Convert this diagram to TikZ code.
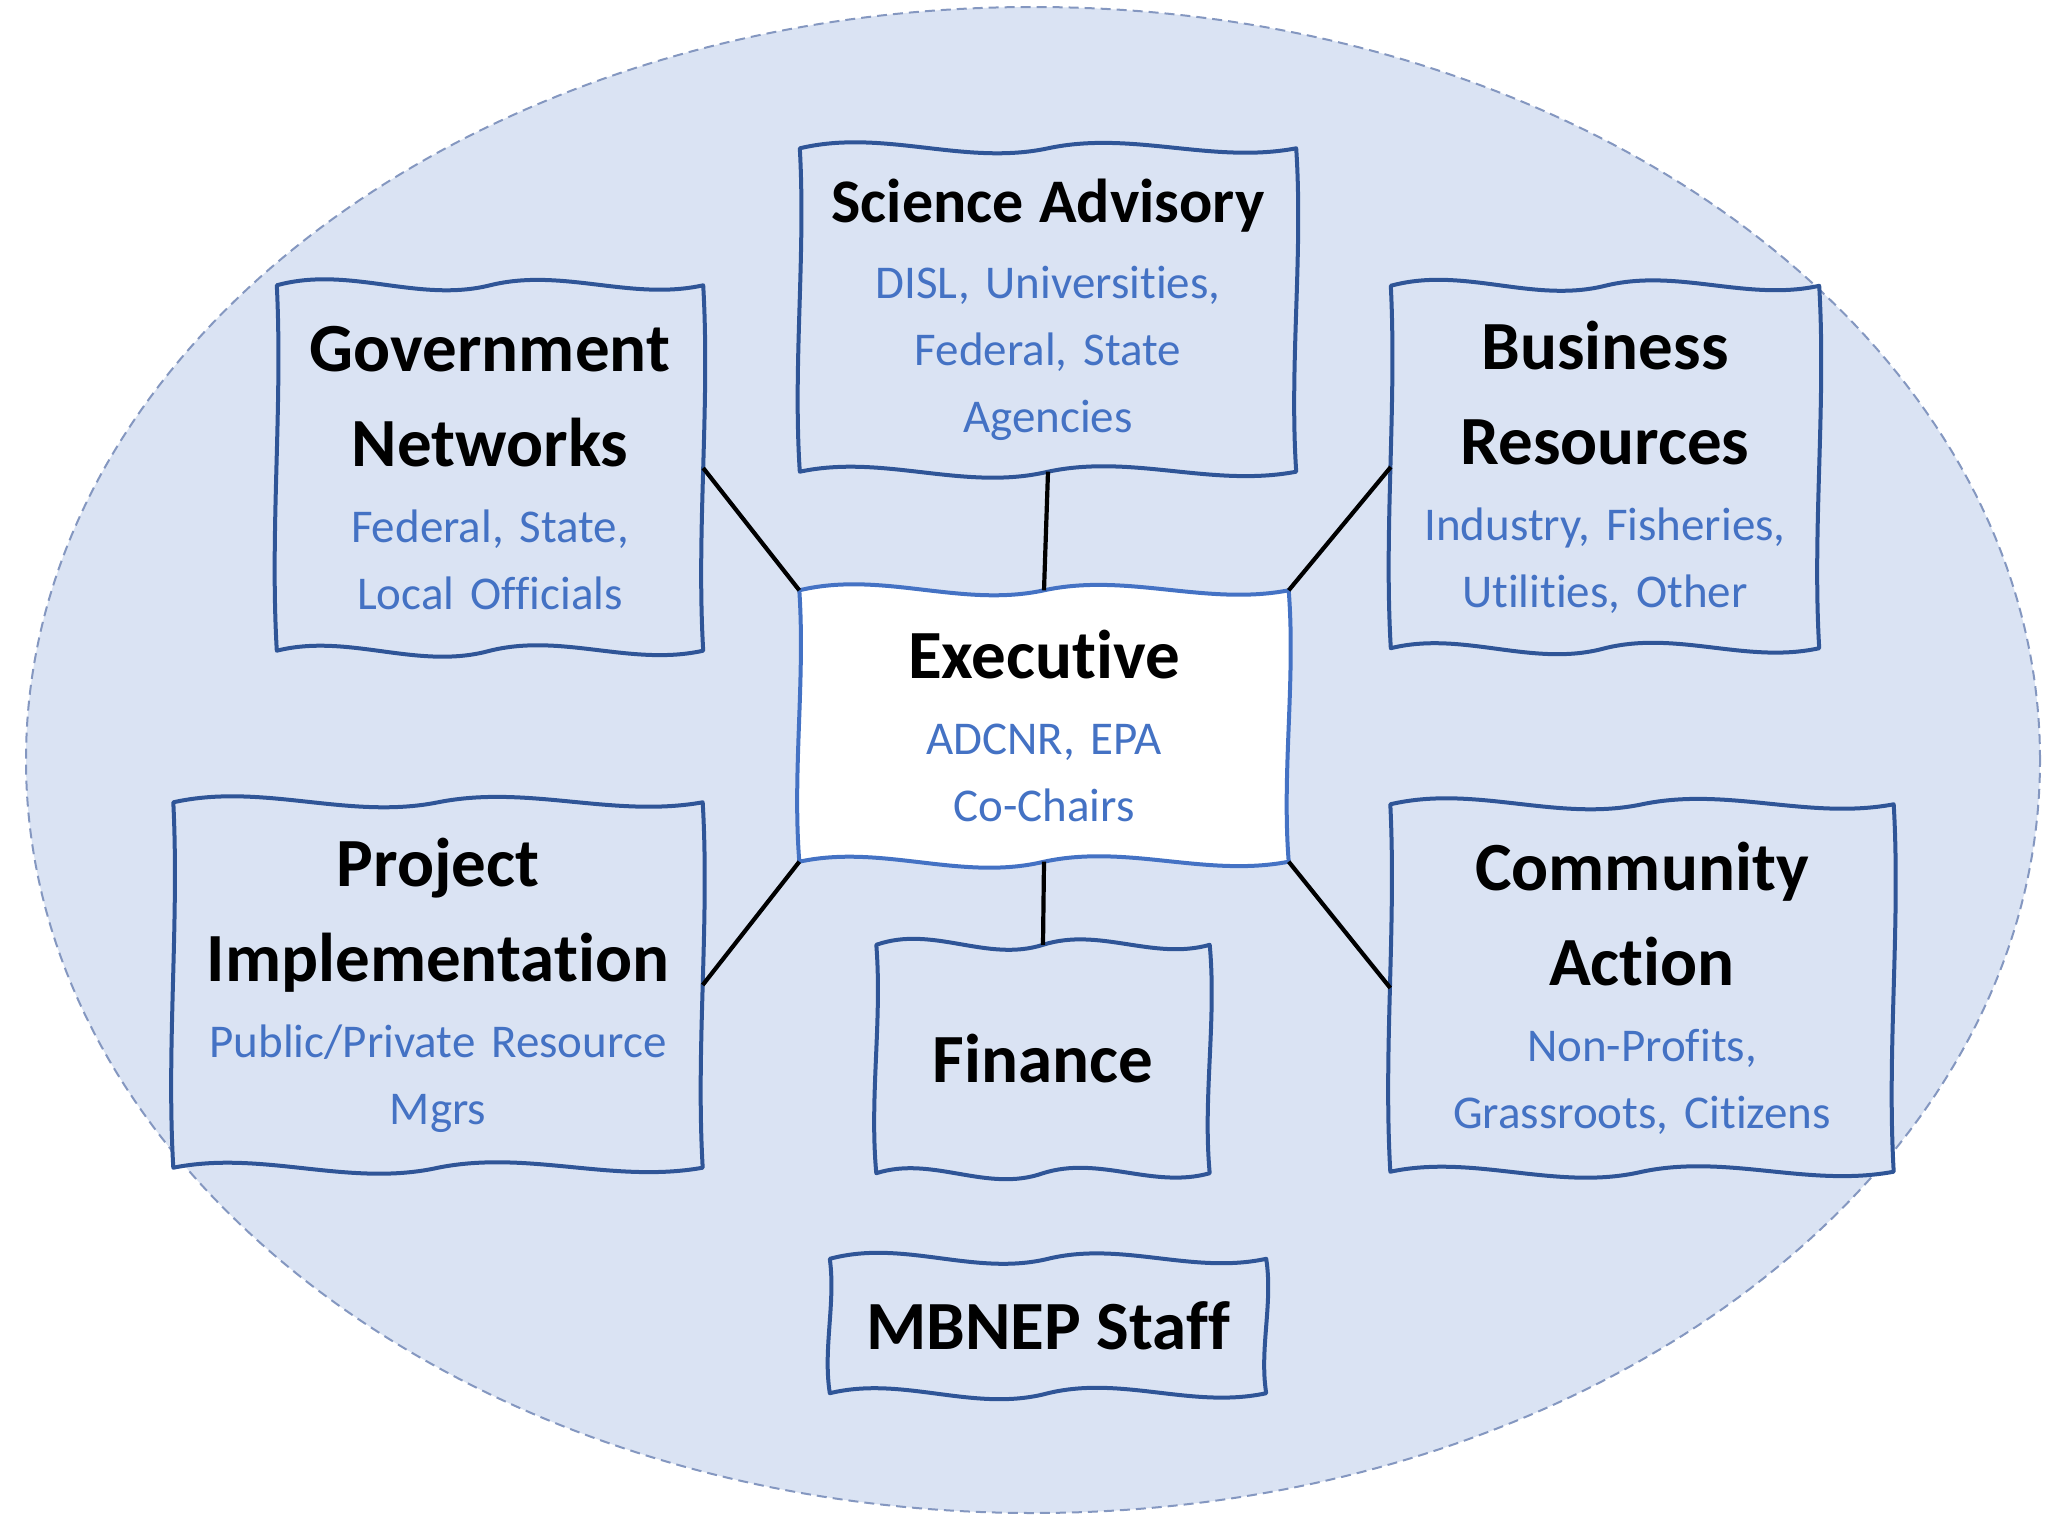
\documentclass[tikz,border=0pt]{standalone}
\usepackage{fontspec}
\setmainfont{Carlito}[Ligatures=NoCommon]
\usetikzlibrary{calc,backgrounds}
\definecolor{bgblue}{HTML}{DAE3F3}
\definecolor{ellline}{HTML}{8497C0}
\definecolor{boxline}{HTML}{2F5597}
\definecolor{exeline}{HTML}{4472C4}
\definecolor{subblue}{HTML}{4472C4}
\newcommand{\ttl}{\bfseries\fontsize{69}{95}\selectfont\spaceskip=0.226em plus 0.1em minus 0.05em\relax}
\newcommand{\sbt}{\vskip 9pt\color{subblue}\fontsize{47}{67}\selectfont\spaceskip=0.34em plus 0.1em minus 0.05em\relax}
% wavy hand-drawn border: name, draw colour, fill colour
\newcommand{\wavyborder}[3]{%
\path[draw=#2, fill=#3, line width=4pt, line join=round]
 (#1.north west)
 .. controls ($(#1.north west)!0.17!(#1.north east)+(0,-20)$) and ($(#1.north west)!0.33!(#1.north east)+(0,18)$) .. ($(#1.north west)!0.5!(#1.north east)$)
 .. controls ($(#1.north west)!0.67!(#1.north east)+(0,-18)$) and ($(#1.north west)!0.83!(#1.north east)+(0,16)$) .. (#1.north east)
 .. controls ($(#1.north east)!0.33!(#1.south east)+(7,0)$) and ($(#1.north east)!0.67!(#1.south east)+(-7,0)$) .. (#1.south east)
 .. controls ($(#1.south east)!0.17!(#1.south west)+(0,16)$) and ($(#1.south east)!0.33!(#1.south west)+(0,-18)$) .. ($(#1.south east)!0.5!(#1.south west)$)
 .. controls ($(#1.south east)!0.67!(#1.south west)+(0,20)$) and ($(#1.south east)!0.83!(#1.south west)+(0,-18)$) .. (#1.south west)
 .. controls ($(#1.south west)!0.33!(#1.north west)+(-7,0)$) and ($(#1.south west)!0.67!(#1.north west)+(6,0)$) .. (#1.north west)
 -- cycle;}
\begin{document}
\begin{tikzpicture}[x=1pt,y=-1pt,
  box/.style={inner sep=0pt, anchor=center},
  link/.style={line width=4.2pt, black}]
\useasboundingbox (0,0) rectangle (2067,1517);

\node[box, minimum width=496pt, minimum height=323pt, text width=480pt] (sci) at (1048,310)
  {\centering{\ttl\fontsize{62}{86}\selectfont Science Advisory\par}{\sbt DISL, Universities,\\Federal, State\\Agencies\par}};
\node[box, minimum width=426pt, minimum height=365pt, text width=410pt] (gov) at (490,468)
  {\centering{\ttl Government\\Networks\par}{\sbt Federal, State,\\Local Officials\par}};
\node[box, minimum width=428pt, minimum height=362pt, text width=412pt] (bus) at (1605,467)
  {\centering{\ttl Business\\Resources\par}{\sbt Industry, Fisheries,\\Utilities, Other\par}};
\node[box, minimum width=489pt, minimum height=271pt, text width=470pt] (exe) at (1044,726)
  {\centering{\ttl Executive\par}{\sbt ADCNR, EPA\\Co-Chairs\par}};
\node[box, minimum width=529pt, minimum height=365pt, text width=515pt] (prj) at (438,985)
  {\centering{\ttl Project\\Implementation\par}{\sbt Public/Private Resource\\Mgrs\par}};
\node[box, minimum width=333pt, minimum height=228pt, text width=320pt] (fin) at (1043,1059)
  {\centering{\ttl Finance\par}};
\node[box, minimum width=503pt, minimum height=367pt, text width=490pt] (com) at (1642,988)
  {\centering{\ttl Community\\Action\par}{\sbt Non-Profits,\\Grassroots, Citizens\par}};
\node[box, minimum width=436pt, minimum height=134pt, text width=420pt] (stf) at (1048,1326)
  {\centering{\ttl MBNEP Staff\par}};

\begin{pgfonlayer}{background}
\path[fill=bgblue, draw=ellline, line width=2pt, dash pattern=on 10pt off 6pt]
  (1033,760) ellipse [x radius=1007pt, y radius=753pt];
\wavyborder{sci}{boxline}{bgblue}
\wavyborder{gov}{boxline}{bgblue}
\wavyborder{bus}{boxline}{bgblue}
\wavyborder{exe}{exeline}{white}
\wavyborder{prj}{boxline}{bgblue}
\wavyborder{fin}{boxline}{bgblue}
\wavyborder{com}{boxline}{bgblue}
\wavyborder{stf}{boxline}{bgblue}
\end{pgfonlayer}

\draw[link] (sci.south) -- (exe.north);
\draw[link] (gov.east) -- (exe.north west);
\draw[link] (bus.west) -- (exe.north east);
\draw[link] (prj.east) -- (exe.south west);
\draw[link] (com.west) -- (exe.south east);
\draw[link] (fin.north) -- (exe.south);
\end{tikzpicture}
\end{document}
